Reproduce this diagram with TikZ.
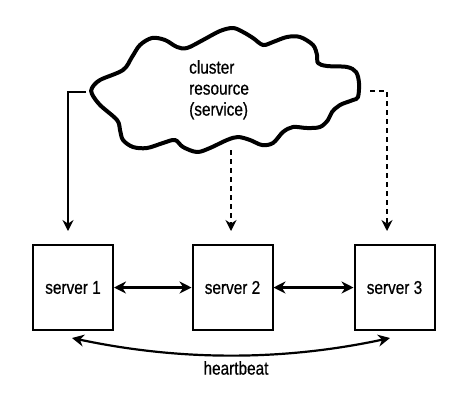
\documentclass[tikz,border=0pt]{standalone}
\usepackage{fontspec}
\setmainfont{Liberation Sans}[FakeStretch=0.83,FakeBold=0.6]
\usetikzlibrary{arrows.meta,calc}
\begin{document}
\begin{tikzpicture}[x=1pt,y=-1pt,
  lbl/.style={font=\fontsize{18.5}{21}\selectfont},
  server/.style={draw,line width=2pt,minimum width=80pt,minimum height=85pt,inner sep=0pt,lbl},
  link/.style={line width=1.7pt,-{Stealth[length=11pt,width=11pt]}},
  dlink/.style={link,dash pattern=on 5pt off 4pt},
  both/.style={line width=2.2pt,{Stealth[length=12pt,width=12pt]}-{Stealth[length=12pt,width=12pt]}},
  cloudline/.style={line width=4pt,line join=round}]
\useasboundingbox[fill=white] (0,0) rectangle (466,400);
% cloud
\draw[cloudline] plot[smooth cycle,tension=0.55] coordinates {
 (92,88) (100,80) (123,70) (132,57) (140,45) (152,38) (165,40) (177,47) (187,48)
 (203,40) (220,31) (233,28) (243,32) (253,38) (263,45) (273,42) (287,37) (300,37)
 (313,45) (317,55) (318,63) (327,66) (347,67) (356,72) (359,83) (358,97) (353,100)
 (340,105) (332,112) (328,120) (320,127) (307,128) (293,127) (283,132) (273,143)
 (262,145) (250,140) (238,137) (227,140) (210,148) (197,152) (183,147) (175,140)
 (163,143) (147,148) (133,147) (123,140) (120,130) (117,120) (100,105) (92,94)};
\node[anchor=north west,align=left,inner sep=0pt,lbl] (res) at (189,60) {cluster\\resource\\(service)};
% servers
\node[server] (s1) at (73,287.5) {server 1};
\node[server] (s2) at (232.5,287.5) {server 2};
\node[server] (s3) at (394.5,287.5) {server 3};
% connector starts
\coordinate (cl) at (86,92);
\coordinate (cb) at (231,150);
\coordinate (cr) at (370,91);
\draw[link] (cl) -| ($(s1.north)+(-5,-13)$);
\draw[dlink] (cb) -- ($(s2.north)+(-1.5,-13)$);
\draw[dlink] (cr) -| ($(s3.north)+(-7.5,-13)$);
% horizontal
\draw[both] (s1.east) -- (s2.west);
\draw[both] (s2.east) -- (s3.west);
% heartbeat
\coordinate (h1) at ($(s1.south)+(-1,7)$);
\coordinate (h2) at ($(s3.south)+(-4.5,7)$);
\draw[both] (h1) .. controls (180,361) and (283,361) .. (h2);
\node[lbl] (hb) at (236,368) {heartbeat};
\end{tikzpicture}
\end{document}
